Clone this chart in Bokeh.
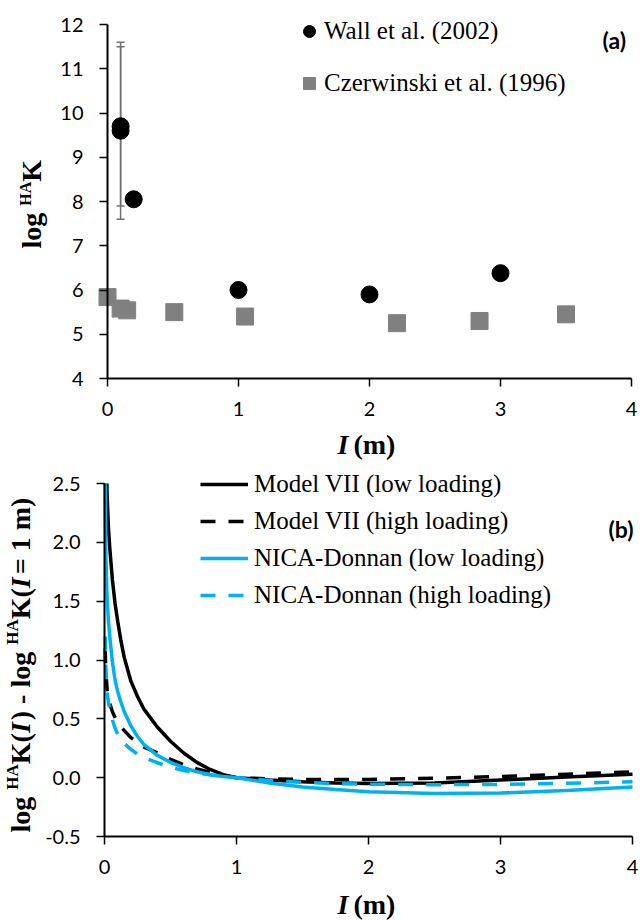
import math

from bokeh.embed import file_html
from bokeh.layouts import column
from bokeh.models import (ColumnDataSource, FixedTicker, Label, Legend, LegendItem,
                          PrintfTickFormatter, Range1d, TeeHead, Whisker)
from bokeh.plotting import figure
from bokeh.resources import INLINE

# ---------------- data ----------------
# (a) measured log HAK versus ionic strength
wall_I = [0.1, 0.1, 0.2, 1.0, 2.0, 3.0]
wall_logK = [9.7, 9.6, 8.05, 6.0, 5.9, 6.38]
wall_err = [1.8, 2.0, 0.0, 0.0, 0.0, 0.0]

czer_I = [0.0, 0.1, 0.15, 0.51, 1.05, 2.21, 2.84, 3.5]
czer_logK = [5.84, 5.58, 5.54, 5.5, 5.4, 5.25, 5.3, 5.45]

# (b) model curves: log HAK(I) - log HAK(I = 1 m)
m7_low_I = [0.018, 0.02, 0.03, 0.04, 0.06, 0.08, 0.1, 0.125, 0.15, 0.2, 0.25, 0.3,
            0.4, 0.5, 0.6, 0.7, 0.8, 0.9, 1.0, 1.25, 1.5, 1.75, 2.0, 2.5, 3.0, 3.5, 4.0]
m7_low = [2.5, 2.4, 2.12, 1.95, 1.68, 1.48, 1.33, 1.16, 1.02, 0.82, 0.69, 0.58,
          0.43, 0.31, 0.21, 0.13, 0.07, 0.025, 0.0, -0.02, -0.035, -0.045, -0.05,
          -0.045, -0.02, 0.005, 0.03]

model_I = [0.005, 0.01, 0.02, 0.03, 0.04, 0.06, 0.08, 0.1, 0.125, 0.15, 0.2, 0.25, 0.3,
           0.4, 0.5, 0.6, 0.7, 0.8, 0.9, 1.0, 1.25, 1.5, 1.75, 2.0, 2.5, 3.0, 3.5, 4.0]
m7_high = [1.1, 0.9, 0.75, 0.68, 0.63, 0.56, 0.51, 0.47, 0.43, 0.4, 0.34, 0.3, 0.26,
           0.21, 0.155, 0.11, 0.075, 0.045, 0.02, 0.0, -0.01, -0.015, -0.016, -0.015,
           -0.005, 0.01, 0.03, 0.05]
nd_low = [2.5, 1.9, 1.52, 1.33, 1.2, 0.98, 0.83, 0.73, 0.64, 0.56, 0.44, 0.35, 0.28,
          0.19, 0.13, 0.085, 0.05, 0.025, 0.01, 0.0, -0.045, -0.08, -0.1, -0.12,
          -0.135, -0.13, -0.11, -0.08]
nd_high = [1.2, 0.95, 0.72, 0.64, 0.58, 0.49, 0.42, 0.37, 0.33, 0.29, 0.24, 0.2, 0.17,
           0.127, 0.09, 0.06, 0.04, 0.025, 0.01, 0.0, -0.025, -0.04, -0.05, -0.055,
           -0.06, -0.057, -0.048, -0.035]

x_ticks = [0, 1, 2, 3, 4]
ya_ticks = [4, 5, 6, 7, 8, 9, 10, 11, 12]
yb_ticks = [-0.5, 0.0, 0.5, 1.0, 1.5, 2.0, 2.5]

BLUE = "#00B0F0"
GRAY = "#808080"
SERIF = "Liberation Serif"
SANS = "Lato"

W, H = 640, 460
TEXT_SHIFT = 6  # pulls free text up (or left, when rotated) onto its baseline


def make_fig(xd, yd, left, right, top, bottom):
    """Figure whose frame fills the canvas; the data box (xd, yd) sits at the
    given pixel edges and the axes are pinned to its left and bottom sides."""
    sx = (right - left) / (xd[1] - xd[0])
    sy = (bottom - top) / (yd[1] - yd[0])
    xr = (xd[0] - left / sx, xd[1] + (W - right) / sx)
    yr = (yd[0] - (H - bottom) / sy, yd[1] + top / sy)
    p = figure(width=W, height=H, x_range=Range1d(*xr), y_range=Range1d(*yr),
               output_backend="svg", toolbar_location=None, title=None,
               min_border=0, min_border_left=0, min_border_right=0,
               min_border_top=0, min_border_bottom=0)
    p.xgrid.visible = False
    p.ygrid.visible = False
    p.outline_line_color = None
    for ax in (p.xaxis[0], p.yaxis[0]):
        ax.axis_line_width = 2
        ax.axis_line_color = "black"
        ax.major_tick_line_width = 1.5
        ax.major_tick_line_color = "black"
        ax.major_tick_in = 0
        ax.major_tick_out = 8
        ax.minor_tick_line_color = None
        ax.major_label_text_font = SANS
        ax.major_label_text_font_size = "20px"
        ax.major_label_text_color = "black"
    p.xaxis.fixed_location = yd[0]
    p.xaxis.bounds = xd
    p.yaxis.fixed_location = xd[0]
    p.yaxis.bounds = yd
    p.xaxis.major_label_standoff = 15
    p.yaxis.major_label_standoff = 16
    p.xaxis.ticker = FixedTicker(ticks=x_ticks)
    p.tags = [dict(xr=xr, yr=yr)]
    return p


def to_data(p, px, py):
    g = p.tags[0]
    x0, x1 = g["xr"]
    y0, y1 = g["yr"]
    return x0 + px / W * (x1 - x0), y1 - py / H * (y1 - y0)


def put(p, px, py, text, size, style="bold", font=SERIF, angle=0.0):
    if angle:
        px -= TEXT_SHIFT + 5
    else:
        py -= TEXT_SHIFT
    x, y = to_data(p, px, py)
    p.add_layout(Label(x=x, y=y, text=text, text_font=font, text_font_size=f"{size}px",
                       text_font_style=style, text_color="black", angle=angle,
                       text_align="left", text_baseline="alphabetic"))


# Times-style bold advance widths (per 1000 em) for composing rich labels
ADV = {" ": 250, "(": 333, ")": 333, "-": 333, "=": 570, "1": 500, "l": 278, "o": 500,
       "g": 500, "H": 778, "A": 722, "K": 778, "m": 833, "I": 389}


def adv(text, size):
    return sum(ADV.get(c, 500) for c in text) * size / 1000.0


def vertical_rich(p, base_x, start_y, pieces):
    """Rotated (bottom-to-top) label made of pieces: (text, size, style, raise, gap)."""
    y = start_y
    for text, size, style, rise, gap in pieces:
        put(p, base_x - rise, y, text, size, style, angle=math.pi / 2)
        y -= adv(text, size) + gap


def x_title(p, left_px, base_py):
    put(p, left_px, base_py, "I", 28, "bold italic")
    put(p, left_px + adv("I", 28) + 5, base_py, " (m)", 28, "bold")


# ---------------- panel (a) ----------------
pa = make_fig((0, 4), (4, 12), 107, 631, 24, 378)
pa.yaxis.ticker = FixedTicker(ticks=ya_ticks)

err_src = ColumnDataSource(dict(
    x=[i for i, e in zip(wall_I, wall_err) if e > 0],
    upper=[k + e for k, e in zip(wall_logK, wall_err) if e > 0],
    lower=[k - e for k, e in zip(wall_logK, wall_err) if e > 0],
))
pa.add_layout(Whisker(source=err_src, base="x", upper="upper", lower="lower",
                      dimension="height", line_color="#707070", line_width=1.5,
                      upper_head=TeeHead(size=8, line_color="#707070", line_width=1.5),
                      lower_head=TeeHead(size=8, line_color="#707070", line_width=1.5)))

r_czer = pa.scatter(czer_I, czer_logK, marker="square", size=17,
                    fill_color=GRAY, line_color=GRAY)
r_wall = pa.scatter(wall_I, wall_logK, marker="circle", size=17,
                    fill_color="black", line_color="black")

leg_a = Legend(items=[LegendItem(label="Wall et al. (2002)", renderers=[r_wall]),
                      LegendItem(label="Czerwinski et al. (1996)", renderers=[r_czer])],
               location=(294, 360), glyph_width=30, glyph_height=34, label_standoff=0,
               label_height=28, spacing=18, padding=0, margin=0, border_line_color=None,
               background_fill_alpha=0, label_text_font=SERIF,
               label_text_font_size="25px", label_text_color="black")
pa.add_layout(leg_a)

put(pa, 602, 45, "(a)", 23, "bold", font=SANS)
x_title(pa, 337, 450)
vertical_rich(pa, 42, 248, [("log ", 28, "bold", 0, 0), ("HA", 16, "bold", 6, 0),
                            ("K", 28, "bold", 0, 0)])

# ---------------- panel (b) ----------------
pb = make_fig((0, 4), (-0.5, 2.5), 104, 632, 23, 376)
pb.yaxis.ticker = FixedTicker(ticks=yb_ticks)
pb.yaxis.formatter = PrintfTickFormatter(format="%.1f")

r1 = pb.line(m7_low_I, m7_low, line_color="black", line_width=3.5)
r2 = pb.line(model_I, m7_high, line_color="black", line_width=3.5, line_dash="15 13")
r3 = pb.line(model_I, nd_low, line_color=BLUE, line_width=3.5)
r4 = pb.line(model_I, nd_high, line_color=BLUE, line_width=3.5, line_dash="15 13")

leg_b = Legend(items=[LegendItem(label="Model VII (low loading)", renderers=[r1]),
                      LegendItem(label="Model VII (high loading)", renderers=[r2]),
                      LegendItem(label="NICA-Donnan (low loading)", renderers=[r3]),
                      LegendItem(label="NICA-Donnan (high loading)", renderers=[r4])],
               location=(200, 311), glyph_width=48, glyph_height=28, label_standoff=6,
               label_height=28, spacing=9, padding=0, margin=0, border_line_color=None,
               background_fill_alpha=0, label_text_font=SERIF,
               label_text_font_size="25px", label_text_color="black")
pb.add_layout(leg_b)

put(pb, 608, 74, "(b)", 23, "bold", font=SANS)
x_title(pb, 337, 450)
vertical_rich(pb, 31, 372, [("log ", 28, "bold", 0, 0), ("HA", 17, "bold", 8, 0),
                            ("K(", 28, "bold", 0, 0), ("I", 28, "bold italic", 0, 2),
                            (") - log ", 28, "bold", 0, 0), ("HA", 17, "bold", 8, 0),
                            ("K(", 28, "bold", 0, 0), ("I", 28, "bold italic", 0, 3),
                            (" = 1 m)", 28, "bold", 0, 0)])

layout = column(pa, pb, spacing=0)
open("out.html", "w").write(file_html(layout, INLINE))
